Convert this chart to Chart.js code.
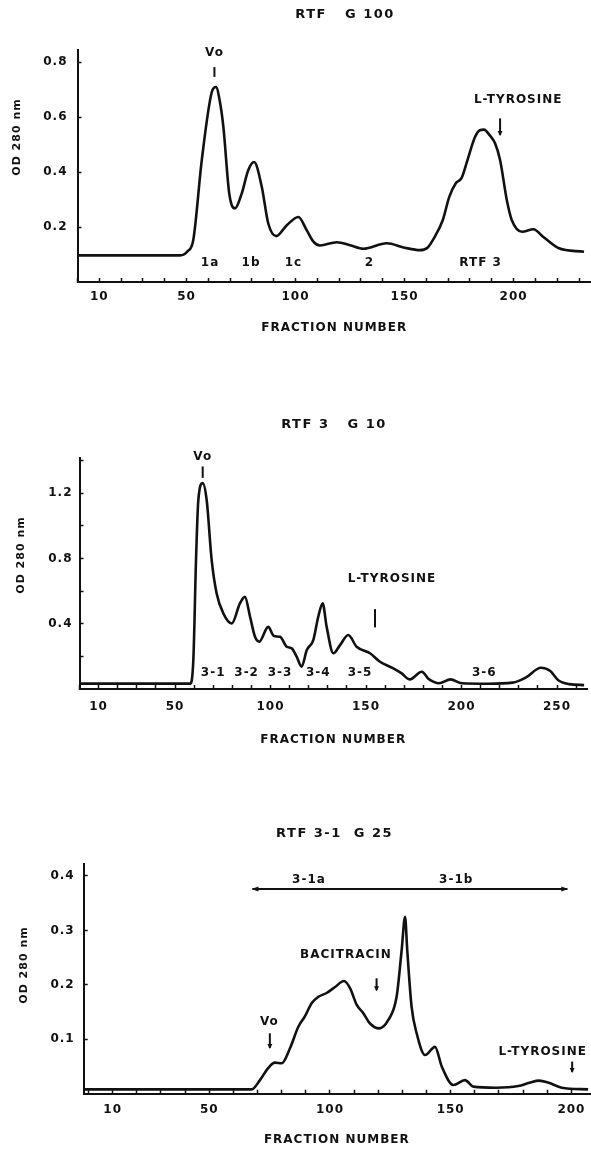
<!DOCTYPE html>
<html>
<head>
<meta charset="utf-8">
<script src="https://cdn.jsdelivr.net/npm/chart.js@4.4.0/dist/chart.umd.min.js"></script>
<style>
  html, body { margin: 0; padding: 0; background: #fff; }
  body { width: 591px; height: 1149px; position: relative; overflow: hidden; }
  canvas { position: absolute; left: 0; }
</style>
</head>
<body>
<canvas id="c1" width="591" height="345" style="top:0px"></canvas>
<canvas id="c2" width="591" height="350" style="top:400px"></canvas>
<canvas id="c3" width="591" height="349" style="top:800px"></canvas>
<script>
// --- RTF G 100 ---
const g100Fraction = [0, 47, 50.5, 53.1, 57, 61.6, 63.5, 65.4, 66.9, 69.6, 72.2, 75.3, 78.3, 81, 84.5, 87.5, 91.1, 96, 101.3, 105.1, 108.2, 111.2, 118.9, 125, 131.1, 141.8, 150, 157.1, 160.5, 163.5, 167.5, 170.5, 173.5, 176.1, 178.7, 182.2, 184.5, 186.4, 189, 191.5, 193.8, 196.9, 199.2, 203.9, 209.1, 213.5, 220.5, 232.3];
const g100OD = [0.097, 0.097, 0.112, 0.153, 0.444, 0.692, 0.710, 0.652, 0.565, 0.322, 0.268, 0.322, 0.407, 0.437, 0.347, 0.213, 0.167, 0.207, 0.237, 0.189, 0.147, 0.133, 0.145, 0.134, 0.121, 0.141, 0.125, 0.116, 0.125, 0.16, 0.225, 0.31, 0.36, 0.378, 0.44, 0.526, 0.553, 0.555, 0.535, 0.505, 0.444, 0.298, 0.225, 0.183, 0.192, 0.165, 0.124, 0.110];
const g100XTicks = [0, 10, 20, 30, 40, 50, 60, 70, 80, 90, 100, 110, 120, 130, 140, 150, 160, 170, 180, 190, 200, 210, 220, 230];
const g100XLabels = [10, 50, 100, 150, 200];
const g100YTicks = [0.2, 0.4, 0.6, 0.8];
const g100YLabels = [0.2, 0.4, 0.6, 0.8];
const g100Texts = [
  { t: 'Vo', x: 62.8, y: 0.836 },
  { t: 'L-TYROSINE', x: 202.1, y: 0.662 },
  { t: '1a', x: 60.8, y: 0.068 },
  { t: '1b', x: 79.6, y: 0.068 },
  { t: '1c', x: 99, y: 0.068 },
  { t: '2', x: 133.9, y: 0.068 },
  { t: 'RTF 3', x: 184.9, y: 0.068 }
];
const g100Arrows = [
  { x: 62.8, y1: 0.783, y2: 0.747, head: false },
  { x: 193.8, y1: 0.596, y2: 0.535, head: true }
];

// --- RTF 3 G 10 ---
const g10Fraction = [0, 57.9, 59.6, 61, 62.2, 64.5, 66.6, 69.2, 71.8, 75.3, 79.7, 84, 86.6, 89.3, 91.9, 94.1, 98.8, 101.8, 105, 108.5, 111.1, 113.7, 116.3, 119, 122.4, 125, 127.3, 129.4, 132.9, 136.4, 140.7, 145.1, 152.1, 157.3, 164.3, 168.5, 173, 179.2, 182.5, 185.5, 188.2, 194.2, 200.2, 213.8, 226.8, 233.6, 241.6, 246.5, 250.5, 256.4, 264.2];
const g10OD = [0.033, 0.033, 0.178, 0.79, 1.157, 1.263, 1.157, 0.79, 0.586, 0.464, 0.402, 0.525, 0.565, 0.443, 0.32, 0.29, 0.381, 0.325, 0.32, 0.259, 0.249, 0.198, 0.137, 0.239, 0.30, 0.443, 0.525, 0.381, 0.219, 0.269, 0.331, 0.259, 0.219, 0.167, 0.127, 0.097, 0.059, 0.106, 0.065, 0.044, 0.035, 0.059, 0.035, 0.032, 0.039, 0.07, 0.13, 0.11, 0.055, 0.03, 0.024];
const g10XTicks = [0, 10, 20, 30, 40, 50, 60, 70, 80, 90, 100, 110, 120, 130, 140, 150, 160, 170, 180, 190, 200, 210, 220, 230, 240, 250, 260];
const g10XLabels = [10, 50, 100, 150, 200, 250];
const g10YTicks = [0.2, 0.4, 0.6, 0.8, 1.0, 1.2, 1.4];
const g10YLabels = [0.4, 0.8, 1.2];
const g10Texts = [
  { t: 'Vo', x: 64.5, y: 1.423 },
  { t: 'L-TYROSINE', x: 163.6, y: 0.678 },
  { t: '3-1', x: 70, y: 0.096 },
  { t: '3-2', x: 87.5, y: 0.096 },
  { t: '3-3', x: 105, y: 0.096 },
  { t: '3-4', x: 125, y: 0.096 },
  { t: '3-5', x: 146.9, y: 0.096 },
  { t: '3-6', x: 211.9, y: 0.096 }
];
const g10Arrows = [
  { x: 64.5, y1: 1.365, y2: 1.295, head: false },
  { x: 154.7, y1: 0.49, y2: 0.378, head: false }
];

// --- RTF 3-1 G 25 ---
const g25Fraction = [-2, 67.6, 71, 74.4, 77.2, 80, 83.4, 86.9, 89.6, 92.4, 95.2, 98.6, 102.1, 105.8, 108.3, 111.1, 113.8, 116.6, 120.4, 124.1, 127.6, 129.7, 131.1, 132, 133.8, 135.9, 139.4, 143.5, 146.3, 151.1, 155.9, 159.4, 168.8, 178, 182.6, 186.6, 190.6, 196, 206.9];
const g25OD = [0.008, 0.008, 0.025, 0.047, 0.057, 0.056, 0.083, 0.123, 0.142, 0.166, 0.178, 0.185, 0.196, 0.207, 0.194, 0.163, 0.148, 0.129, 0.12, 0.135, 0.178, 0.264, 0.325, 0.264, 0.16, 0.111, 0.071, 0.086, 0.05, 0.016, 0.025, 0.013, 0.011, 0.014, 0.02, 0.024, 0.02, 0.011, 0.008];
const g25XTicks = [0, 10, 20, 30, 40, 50, 60, 70, 80, 90, 100, 110, 120, 130, 140, 150, 160, 170, 180, 190, 200];
const g25XLabels = [10, 50, 100, 150, 200];
const g25YTicks = [0.1, 0.2, 0.3, 0.4];
const g25YLabels = [0.1, 0.2, 0.3, 0.4];
const g25Texts = [
  { t: '3-1a', x: 91.3, y: 0.393 },
  { t: '3-1b', x: 152.3, y: 0.393 },
  { t: 'BACITRACIN', x: 106.6, y: 0.255 },
  { t: 'Vo', x: 74.9, y: 0.132 },
  { t: 'L-TYROSINE', x: 188.1, y: 0.077 }
];
const g25Arrows = [
  { x: 119.3, y1: 0.212, y2: 0.19, head: true },
  { x: 75.1, y1: 0.111, y2: 0.084, head: true },
  { x: 200.3, y1: 0.059, y2: 0.04, head: true }
];
const g25Span = { x1: 67.9, x2: 198.3, y: 0.376 };

const ink = '#111';
const fam = '"DejaVu Sans", sans-serif';

// titre, texte, fleches et titre vertical dessines par-dessus la courbe
const annotPlugin = {
  id: 'annot',
  beforeDraw(chart) {
    chart.ctx.letterSpacing = '1px';
  },
  afterDatasetsDraw(chart, args, opts) {
    const ctx = chart.ctx;
    const sx = chart.scales.x, sy = chart.scales.y;
    ctx.save();
    ctx.fillStyle = ink;
    ctx.strokeStyle = ink;
    ctx.textAlign = 'center';
    ctx.textBaseline = 'middle';
    if (opts.title) {
      ctx.save();
      ctx.letterSpacing = '1.5px';
      ctx.font = 'bold 13px ' + fam;
      ctx.fillText(opts.title.text, opts.title.x, opts.title.y);
      ctx.restore();
    }
    ctx.font = 'bold 12px ' + fam;
    (opts.texts || []).forEach(function (a) {
      ctx.fillText(a.t, sx.getPixelForValue(a.x), sy.getPixelForValue(a.y));
    });
    ctx.lineWidth = 2;
    (opts.arrows || []).forEach(function (a) {
      const px = sx.getPixelForValue(a.x);
      const p1 = sy.getPixelForValue(a.y1), p2 = sy.getPixelForValue(a.y2);
      ctx.beginPath();
      ctx.moveTo(px, p1);
      ctx.lineTo(px, p2);
      ctx.stroke();
      if (a.head) {
        ctx.beginPath();
        ctx.moveTo(px - 2.5, p2 - 4);
        ctx.lineTo(px + 2.5, p2 - 4);
        ctx.lineTo(px, p2 + 1);
        ctx.closePath();
        ctx.fill();
      }
    });
    if (opts.span) {
      const s = opts.span;
      const x1 = sx.getPixelForValue(s.x1), x2 = sx.getPixelForValue(s.x2), py = sy.getPixelForValue(s.y);
      ctx.beginPath();
      ctx.moveTo(x1, py);
      ctx.lineTo(x2, py);
      ctx.stroke();
      ctx.beginPath();
      ctx.moveTo(x1 - 1, py); ctx.lineTo(x1 + 6, py - 2.5); ctx.lineTo(x1 + 6, py + 2.5); ctx.closePath();
      ctx.fill();
      ctx.beginPath();
      ctx.moveTo(x2 + 1, py); ctx.lineTo(x2 - 6, py - 2.5); ctx.lineTo(x2 - 6, py + 2.5); ctx.closePath();
      ctx.fill();
    }
    if (opts.yTitle) {
      ctx.font = 'bold 11px ' + fam;
      ctx.translate(opts.yTitle.x, opts.yTitle.y);
      ctx.rotate(-Math.PI / 2);
      ctx.fillText('OD 280 nm', 0, 0);
    }
    ctx.restore();
  }
};

function makePanel(id, p) {
  const pts = p.xs.map(function (v, i) { return { x: v, y: p.ys[i] }; });
  return new Chart(document.getElementById(id), {
    type: 'line',
    data: {
      datasets: [{
        data: pts,
        borderColor: ink,
        borderWidth: 2.6,
        pointRadius: 0,
        fill: false,
        cubicInterpolationMode: 'monotone'
      }]
    },
    options: {
      responsive: false,
      animation: false,
      devicePixelRatio: 1,
      layout: { padding: { top: p.plotTop, left: 0, right: p.padRight, bottom: 0 } },
      plugins: {
        legend: { display: false },
        tooltip: { enabled: false },
        title: { display: false },
        annot: { title: p.title, texts: p.texts, arrows: p.arrows, span: p.span, yTitle: p.yTitle }
      },
      scales: {
        x: {
          type: 'linear',
          min: p.xMin,
          max: p.xMax,
          afterFit: function (s) { s.height = p.xAxisH; s.paddingLeft = 0; s.paddingRight = 0; },
          afterBuildTicks: function (s) { s.ticks = p.xTicks.map(function (v) { return { value: v }; }); },
          ticks: {
            autoSkip: false,
            maxRotation: 0,
            padding: p.xTickPad,
            color: ink,
            font: { family: fam, size: 12, weight: 'bold' },
            callback: function (v) { return p.xLabels.includes(v) ? String(v) : ''; }
          },
          grid: { drawOnChartArea: false, drawTicks: true, tickLength: -4, tickColor: ink, tickWidth: 1.5 },
          border: { display: true, color: ink, width: 2 },
          title: {
            display: true,
            text: 'FRACTION NUMBER',
            color: ink,
            font: { family: fam, size: 12, weight: 'bold' },
            padding: { top: 0, bottom: p.xTitlePad }
          }
        },
        y: {
          type: 'linear',
          min: 0,
          max: p.yMax,
          afterFit: function (s) { s.width = p.yAxisW; s.paddingTop = 0; s.paddingBottom = 0; },
          afterBuildTicks: function (s) { s.ticks = p.yTicks.map(function (v) { return { value: v }; }); },
          ticks: {
            autoSkip: false,
            padding: p.yTickPad,
            color: ink,
            font: { family: fam, size: 12, weight: 'bold' },
            callback: function (v) { return p.yLabels.includes(v) ? v.toFixed(1) : ''; }
          },
          grid: { drawOnChartArea: false, drawTicks: true, tickLength: -4, tickColor: ink, tickWidth: 1.5 },
          border: { display: true, color: ink, width: 2 }
        }
      }
    },
    plugins: [annotPlugin]
  });
}

makePanel('c1', {
  title: { text: 'RTF   G 100', x: 345, y: 15 }, xs: g100Fraction, ys: g100OD,
  xMin: 0, xMax: 235.5, yMax: 0.845,
  xTicks: g100XTicks, xLabels: g100XLabels, yTicks: g100YTicks, yLabels: g100YLabels,
  texts: g100Texts, arrows: g100Arrows, yTitle: { x: 17, y: 137 },
  plotTop: 50, padRight: 0,
  xAxisH: 63, xTickPad: 11.8, xTitlePad: 9.8, yAxisW: 77.5, yTickPad: 14
});

makePanel('c2', {
  title: { text: 'RTF 3   G 10', x: 334, y: 25 }, xs: g10Fraction, ys: g10OD,
  xMin: 0, xMax: 265.7, yMax: 1.415,
  xTicks: g10XTicks, xLabels: g10XLabels, yTicks: g10YTicks, yLabels: g10YLabels,
  texts: g10Texts, arrows: g10Arrows, yTitle: { x: 21, y: 155 },
  plotTop: 58.3, padRight: 4,
  xAxisH: 61, xTickPad: 14.5, xTitlePad: 2.8, yAxisW: 79.5, yTickPad: 11
});

makePanel('c3', {
  title: { text: 'RTF 3-1  G 25', x: 334.6, y: 33.3 }, xs: g25Fraction, ys: g25OD,
  xMin: -2, xMax: 207.7, yMax: 0.422,
  xTicks: g25XTicks, xLabels: g25XLabels, yTicks: g25YTicks, yLabels: g25YLabels,
  texts: g25Texts, arrows: g25Arrows, span: g25Span, yTitle: { x: 24.5, y: 165 },
  plotTop: 64, padRight: 1,
  xAxisH: 55.3, xTickPad: 13.1, xTitlePad: 1.8, yAxisW: 83.7, yTickPad: 13
});
</script>
</body>
</html>
